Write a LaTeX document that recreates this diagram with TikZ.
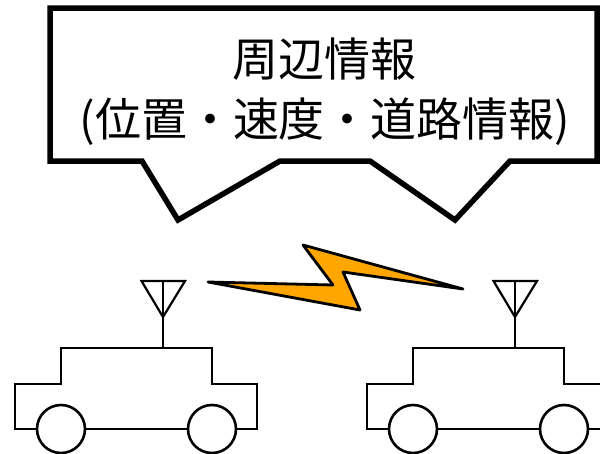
\documentclass[tikz,border=0pt]{standalone}
\usepackage{fontspec}
\newfontfamily\jpfont{Noto Sans CJK JP}
\definecolor{boltorange}{RGB}{255,166,0}

\tikzset{
  balloon/.style={line width=5.5pt, line join=miter},
  carline/.style={line width=2.6pt, line join=miter},
  antenna/.style={line width=2.2pt, line join=miter},
  bolt/.style={fill=boltorange, draw=black, line width=2.8pt, line join=round}
}

\begin{document}
\begin{tikzpicture}[x=1pt,y=-1pt]
      \useasboundingbox (0,0) rectangle (600,453);

      % Draw the speech balloon with its two pointers
      \draw[balloon] (50,8) -- (597,8) -- (597,161) -- (510,161) -- (455,220)
        -- (370,161) -- (280,161) -- (178,220) -- (142,161) -- (50,161) -- cycle;
      \node[font=\jpfont\fontsize{46}{60}\selectfont, align=center] (info) at (325,92)
        {周辺情報\\(位置・速度・道路情報)};

      % Add the lightning bolt between the antennas
      \draw[bolt] (208,282) -- (333,285) -- (303,245) -- (463,289)
        -- (343,272) -- (360,310) -- cycle;

      % Draw the two cars, the second one shifted right
      \foreach \dx in {0,352} {
        \begin{scope}[xshift=\dx]
          \draw[carline] (15,429) -- (15,384) -- (61,384) -- (61,348) -- (212,348)
            -- (212,384) -- (257,384) -- (257,429) -- cycle;
          \draw[carline,fill=white] (61,429) circle (24pt);
          \draw[carline,fill=white] (212,429) circle (24pt);
          % antenna on the roof
          \draw[antenna] (163,348) -- (163,281);
          \draw[antenna] (141.5,281) -- (185,281) -- (163,317) -- cycle;
        \end{scope}
      }
    \end{tikzpicture}
\end{document}
